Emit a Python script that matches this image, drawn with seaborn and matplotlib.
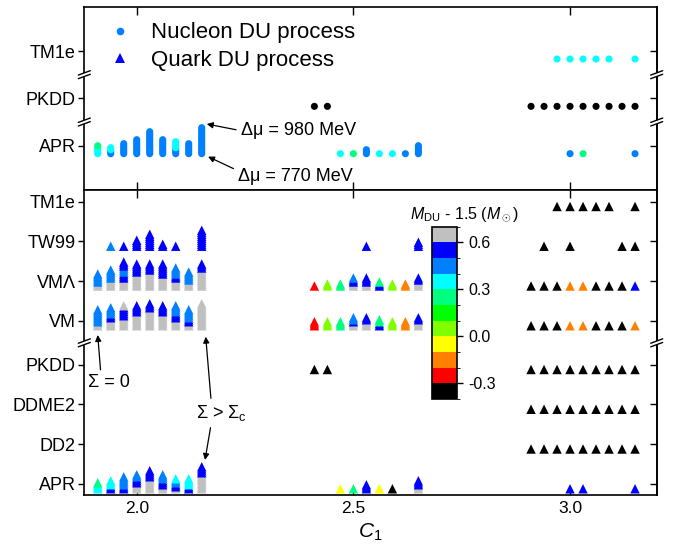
import numpy as np
import pandas as pd
import matplotlib
matplotlib.use("Agg")
import matplotlib.pyplot as plt
import matplotlib.colors as mcolors
import matplotlib.cm as cm
from matplotlib.lines import Line2D
import seaborn as sns

sns.set_style("ticks", {"axes.edgecolor": "black", "xtick.color": "black",
                        "ytick.color": "black", "text.color": "black",
                        "axes.labelcolor": "black"})
plt.rcParams['font.family'] = ['Liberation Sans', 'DejaVu Sans']
plt.rcParams['mathtext.fontset'] = 'custom'
plt.rcParams['mathtext.rm'] = 'Liberation Sans'
plt.rcParams['mathtext.it'] = 'Liberation Sans:italic'
plt.rcParams['mathtext.bf'] = 'Liberation Sans:bold'
plt.rcParams['axes.unicode_minus'] = False

# --- colour bins of M_DU - 1.5 (Msun) ---
bounds = [-0.4, -0.3, -0.2, -0.1, 0.0, 0.1, 0.2, 0.3, 0.4, 0.5, 0.6, 0.7]
bin_colors = ['#000000', '#ff0000', '#ff8000', '#ffff00', '#80ff00', '#00ff00',
              '#00ff80', '#00ffff', '#0080ff', '#0000ff', '#c0c0c0']
# bin centres (value read for every point)
blk, red, org, yel, ygr, grn, sgr, cyn, azu, blu, gry = (
    -0.35, -0.25, -0.15, -0.05, 0.05, 0.15, 0.25, 0.35, 0.45, 0.55, 0.65)

# --- C1 columns ---
c1_left = [1.91, 1.94, 1.97, 2.00, 2.03, 2.06, 2.09, 2.12, 2.15]
c1_mid = [2.41, 2.44, 2.47, 2.50, 2.53, 2.56, 2.59, 2.62, 2.65]
c1_right = [2.91, 2.94, 2.97, 3.00, 3.03, 3.06, 3.09, 3.12, 3.15]

# each column: runs of (number of Delta-mu steps, M_DU - 1.5) from bottom (770 MeV) up
# --- nucleon DU (top panel) ---
top_labels = ['APR', 'PKDD', 'TM1e']
top_pos = [0, 1, 2]
top_apr_left = [[(4, cyn), (1, sgr)], [(2, azu), (2, cyn)], [(6, azu)], [(8, azu)],
                [(12, azu)], [(8, azu)], [(3, azu), (4, cyn)], [(6, azu)], [(14, azu)]]
top_apr_mid = [None, None, cyn, sgr, [(3, azu)], cyn, cyn, azu, [(5, azu)]]
top_apr_right = [None, None, None, azu, sgr, None, None, None, azu]
top_pkdd_mid = [blk, blk, None, None, None, None, None, None, None]
top_pkdd_right = [blk, blk, blk, blk, blk, blk, blk, blk, blk]
top_tm1e_right = [None, None, cyn, cyn, cyn, cyn, cyn, None, cyn]

# --- quark DU (bottom panel) ---
bot_labels = ['APR', 'DD2', 'DDME2', 'PKDD', 'VM', 'VM\u039b', 'TW99', 'TM1e']
bot_pos = [0, 1, 2, 3, 4.1, 5.1, 6.1, 7.1]
bot_apr_left = [[(3, cyn), (1, sgr)], [(2, blu), (3, cyn)], [(2, blu), (5, azu)],
                [(3, gry), (3, blu), (2, azu)], [(6, gry), (4, blu)],
                [(2, gry), (3, blu), (3, azu)], [(1, gry), (2, blu), (2, azu), (1, cyn)],
                [(2, blu), (4, cyn)], [(8, gry), (4, blu)]]
bot_apr_mid = [None, None, yel, sgr, [(3, blu)], yel, blk, None, [(2, gry), (3, blu)]]
bot_apr_right = [None, None, None, blu, blu, None, None, None, blu]
bot_dd2_right = [blk, blk, blk, blk, blk, blk, blk, blk, blk]
bot_ddme2_right = [blk, blk, blk, blk, blk, blk, blk, blk, blk]
bot_pkdd_mid = [blk, blk, None, None, None, None, None, None, None]
bot_pkdd_right = [blk, blk, blk, blk, blk, blk, blk, blk, blk]
bot_vm_left = [[(2, gry), (7, azu)], [(4, gry), (2, blu), (4, azu)],
               [(5, gry), (5, blu), (1, gry)], [(7, gry), (4, blu)], [(9, gry), (3, blu)],
               [(7, gry), (4, blu)], [(4, gry), (3, blu), (4, azu)],
               [(2, gry), (2, blu), (5, azu)], [(12, gry)]]
bot_vm_mid = [[(3, red)], [(3, ygr)], [(3, sgr)], [(2, gry), (1, blu), (2, azu)],
              [(3, gry), (2, blu)], [(2, blu), (2, sgr)], [(3, ygr)], [(3, org)],
              [(3, gry), (2, blu)]]
bot_vm_right = [blk, blk, blk, org, org, blk, blk, blk, org]
bot_vml_left = [[(2, gry), (5, azu)], [(4, gry), (5, azu)],
                [(4, gry), (3, blu), (3, azu), (3, blu)], [(7, gry), (5, blu)],
                [(8, gry), (4, blu)], [(6, gry), (6, blu)], [(4, gry), (2, blu), (4, azu)],
                [(3, gry), (5, azu)], [(9, gry), (3, blu)]]
bot_vml_mid = [[(1, red)], [(2, ygr)], [(2, sgr)], [(2, gry), (2, blu), (1, azu)],
               [(2, gry), (3, blu)], [(2, blu), (1, sgr)], [(2, ygr)], [(2, org)],
               [(3, gry), (2, blu)]]
bot_vml_right = [blk, blk, blk, org, org, blk, blk, blk, blu]
bot_tw99_left = [None, azu, blu, [(4, blu)], [(7, blu)], [(2, blu)], blu, None, [(9, blu)]]
bot_tw99_mid = [None, None, None, None, blu, None, None, None, [(3, blu)]]
bot_tw99_right = [None, blk, None, blk, None, None, None, blk, blk]
bot_tm1e_right = [None, None, blk, blk, blk, blk, blk, None, blk]

# y offset of the 770 MeV point and of each Delta-mu step (pixels -> data units)
TOP_UNIT, BOT_UNIT = 47.35, 39.76
top_base, top_step = -8.0 / TOP_UNIT, 2.0 / TOP_UNIT
bot_base, bot_step = -4.8 / BOT_UNIT, 2.0 / BOT_UNIT


def stack_points(c1_vals, columns, row_y, base, step):
    out = []
    for c1, col in zip(c1_vals, columns):
        if col is None:
            continue
        if not isinstance(col, list):
            col = [(1, col)]
        k = 0
        for n, val in col:
            for _ in range(n):
                out.append({'C1': c1, 'y': row_y + base + k * step, 'mdu': val})
                k += 1
    return out


top_rows = []
for c1s, cols, yy in [(c1_left, top_apr_left, 0), (c1_mid, top_apr_mid, 0),
                      (c1_right, top_apr_right, 0), (c1_mid, top_pkdd_mid, 1),
                      (c1_right, top_pkdd_right, 1), (c1_right, top_tm1e_right, 2)]:
    top_rows += stack_points(c1s, cols, yy, top_base, top_step)
df_top = pd.DataFrame(top_rows)

bot_rows = []
for c1s, cols, yy in [(c1_left, bot_apr_left, 0), (c1_mid, bot_apr_mid, 0),
                      (c1_right, bot_apr_right, 0), (c1_right, bot_dd2_right, 1),
                      (c1_right, bot_ddme2_right, 2), (c1_mid, bot_pkdd_mid, 3),
                      (c1_right, bot_pkdd_right, 3), (c1_left, bot_vm_left, 4.1),
                      (c1_mid, bot_vm_mid, 4.1), (c1_right, bot_vm_right, 4.1),
                      (c1_left, bot_vml_left, 5.1), (c1_mid, bot_vml_mid, 5.1),
                      (c1_right, bot_vml_right, 5.1), (c1_left, bot_tw99_left, 6.1),
                      (c1_mid, bot_tw99_mid, 6.1), (c1_right, bot_tw99_right, 6.1),
                      (c1_right, bot_tm1e_right, 7.1)]:
    bot_rows += stack_points(c1s, cols, yy, bot_base, bot_step)
df_bot = pd.DataFrame(bot_rows)

pal = dict(zip([blk, red, org, yel, ygr, grn, sgr, cyn, azu, blu, gry], bin_colors))
cmap = mcolors.ListedColormap(bin_colors)
norm = mcolors.BoundaryNorm(bounds, cmap.N)

# --- figure ---
W, H = 678, 552
fig = plt.figure(figsize=(W / 100, H / 100), dpi=100)
ax_top = fig.add_axes([84.3 / W, 1 - 190 / H, 572.4 / W, 183.3 / H])
ax_bot = fig.add_axes([84.3 / W, 1 - 495 / H, 572.4 / W, 305 / H])
cax = fig.add_axes([431.7 / W, 1 - 399 / H, 25.6 / W, 172.3 / H])

sns.scatterplot(data=df_top, x='C1', y='y', hue='mdu', palette=pal, marker='o',
                s=26, linewidth=0, legend=False, ax=ax_top)
sns.scatterplot(data=df_bot, x='C1', y='y', hue='mdu', palette=pal, marker='^',
                s=46, linewidth=0, legend=False, ax=ax_bot)

for ax, ticks, labels, ylim in [(ax_top, top_pos, top_labels, (-0.936, 2.936)),
                                 (ax_bot, bot_pos, bot_labels, (-0.277, 7.394))]:
    ax.set_xlim(1.879, 3.200)
    ax.set_ylim(*ylim)
    ax.set_xticks([2.0, 2.5, 3.0])
    ax.set_yticks(ticks)
    ax.set_yticklabels(labels)
    ax.set_ylabel('')
    ax.set_xlabel('')
    for sp in ax.spines.values():
        sp.set_visible(True)
        sp.set_linewidth(1.2)
    ax.tick_params(axis='x', direction='in', top=True, bottom=True, length=5.5,
                   width=1, labelsize=12.5, pad=4.5)
    ax.tick_params(axis='y', direction='out', left=True, right=False, length=4.3,
                   width=1, labelsize=13, pad=2)
    sec = ax.secondary_yaxis('right')
    sec.set_yticks(ticks)
    sec.tick_params(direction='in', length=4.8, width=1, labelright=False)
    sec.spines['right'].set_linewidth(1.2)

ax_top.tick_params(axis='x', labelbottom=False)
ax_bot.set_xlabel('$C_1$', fontsize=15, labelpad=4)

# axis breaks
def draw_break(ax, y_data, w_px, h_px):
    y0, y1 = ax.get_ylim()
    yf = (y_data - y0) / (y1 - y0)
    dx, dy, gap = 6.0 / w_px, 2.2 / h_px, 1.8 / h_px
    for xf in (0, 1):
        ax.add_patch(plt.Polygon([(xf - dx, yf - dy - gap), (xf + dx, yf + dy - gap),
                                  (xf + dx, yf + dy + gap), (xf - dx, yf - dy + gap)],
                                 closed=True, transform=ax.transAxes, fc='white',
                                 ec='none', clip_on=False, zorder=5))
        for s in (-gap, gap):
            ax.plot([xf - dx, xf + dx], [yf - dy + s, yf + dy + s], color='black',
                    lw=1, transform=ax.transAxes, clip_on=False, zorder=6)

draw_break(ax_top, 0.5, 572.4, 183.3)
draw_break(ax_top, 1.5, 572.4, 183.3)
draw_break(ax_bot, 3.55, 572.4, 305)

# legend
handles = [Line2D([], [], marker='o', ls='', color='#0080ff', markersize=5.5,
                  markeredgewidth=0, label='Nucleon DU process'),
           Line2D([], [], marker='^', ls='', color='#0000ff', markersize=6.5,
                  markeredgewidth=0, label='Quark DU process')]
ax_top.legend(handles=handles, loc='upper left', bbox_to_anchor=(0.043, 0.915),
              frameon=False, fontsize=16, handlelength=1.0, handletextpad=0.9,
              labelspacing=0.3, borderpad=0, borderaxespad=0)

# annotations
arrow = dict(arrowstyle='-|>', lw=0.9, color='black', mutation_scale=9,
             shrinkA=1, shrinkB=0)
ax_top.annotate('\u0394\u03bc = 980 MeV', xy=(2.1616, 0.458), xytext=(2.240, 0.317),
                ha='left', va='center', fontsize=13,
                arrowprops=dict(arrow, relpos=(0.0, 0.5)))
ax_top.annotate('\u0394\u03bc = 770 MeV', xy=(2.1646, -0.232), xytext=(2.2338, -0.655),
                ha='left', va='center', fontsize=13,
                arrowprops=dict(arrow, relpos=(0.0, 0.85)))
ax_bot.annotate('\u03a3 = 0', xy=(1.910, 3.748), xytext=(1.8883, 2.54),
                ha='left', va='center', fontsize=13,
                arrowprops=dict(arrow, relpos=(0.3, 1.0)))
ax_bot.annotate('\u03a3 > \u03a3$_\\mathrm{c}$', xy=(2.1592, 3.705), xytext=(2.1369, 1.786),
                ha='left', va='center', fontsize=13,
                arrowprops=dict(arrow, relpos=(0.3, 1.0)))
ax_bot.annotate('\u03a3 > \u03a3$_\\mathrm{c}$', xy=(2.1576, 0.604), xytext=(2.1369, 1.786),
                ha='left', va='center', fontsize=13, alpha=0,
                arrowprops=dict(arrow, relpos=(0.3, 0.0), alpha=1))

# colour bar
cb = fig.colorbar(cm.ScalarMappable(norm=norm, cmap=cmap), cax=cax,
                  ticks=[-0.3, 0.0, 0.3, 0.6])
cb.ax.set_yticklabels(['-0.3', '0.0', '0.3', '0.6'])
cb.outline.set_linewidth(1.2)
cb.outline.set_edgecolor('black')
cax.tick_params(direction='out', length=4.3, width=1, labelsize=11.5, pad=3.5)
fig.text(464 / W, 1 - 215 / H, '$M_\\mathrm{DU}$ - 1.5 ($M_\\odot$)',
         ha='center', va='center', fontsize=11.5)

fig.savefig('out.png', dpi=100)
